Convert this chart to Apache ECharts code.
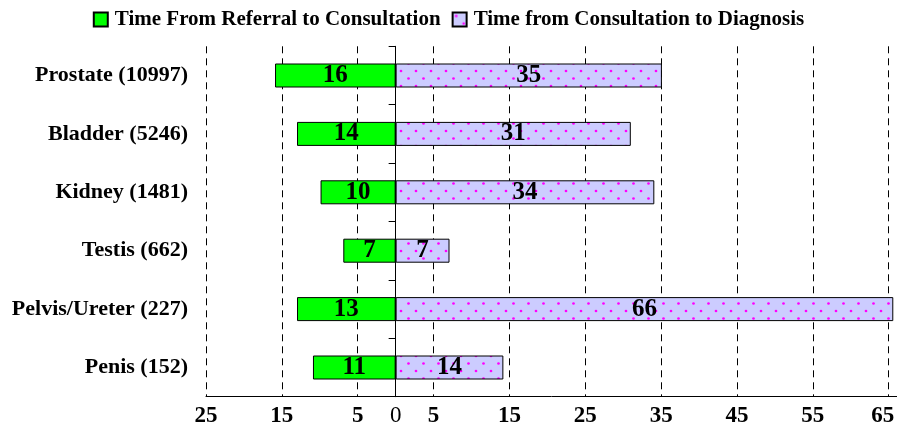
<!DOCTYPE html>
<html><head><meta charset="utf-8">
<script src="https://cdn.jsdelivr.net/npm/echarts@6/dist/echarts.min.js"></script>
<style>html,body{margin:0;padding:0;background:#fff}#c{width:897px;height:429px}</style>
</head><body><div id="c"></div>
<script>
const categories = ['Prostate (10997)','Bladder (5246)','Kidney (1481)','Testis (662)','Pelvis/Ureter (227)','Penis (152)'];
const referralDays = [15.9, 13, 9.9, 6.9, 13, 10.9];
const referralLabels = [16, 14, 10, 7, 13, 11];
const diagnosisDays = [35.1, 31, 34.1, 7.1, 65.6, 14.2];
const diagnosisLabels = [35, 31, 34, 7, 66, 14];
const tickLabels = [-25, -15, -5, 0, 5, 15, 25, 35, 45, 55, 65];
const gridValues = [-25, -15, -5, 5, 15, 25, 35, 45, 55, 65];
const seriesNames = ['Time From Referral to Consultation', 'Time from Consultation to Diagnosis'];

const FONT = "'Liberation Serif', 'Times New Roman', serif";

function dotPattern() {
  const c = document.createElement('canvas');
  c.width = 15; c.height = 15;
  const g = c.getContext('2d');
  g.fillStyle = '#ccccff';
  g.fillRect(0, 0, 15, 15);
  g.fillStyle = '#ff00ff';
  g.beginPath(); g.arc(3.5, 3.5, 1.35, 0, Math.PI * 2); g.fill();
  g.beginPath(); g.arc(11, 11, 1.35, 0, Math.PI * 2); g.fill();
  return { image: c, repeat: 'repeat' };
}

const lastTick = tickLabels[tickLabels.length - 1];

const chart = echarts.init(document.getElementById('c'), null, { renderer: 'canvas' });
chart.setOption({
  animation: false,
  backgroundColor: '#fff',
  textStyle: { fontFamily: FONT },
  legend: {
    top: 4, left: 'center',
    itemWidth: 14, itemHeight: 14, itemGap: 11,
    icon: 'rect',
    textStyle: { fontFamily: FONT, fontWeight: 'bold', fontSize: 21, color: '#000', padding: [0, 0, 0, 2] },
    data: seriesNames
  },
  grid: { left: 206, right: 0, top: 46.3, bottom: 32.3, containLabel: false, outerBoundsMode: 'none' },
  xAxis: {
    type: 'value', min: -25, max: 66.09, interval: 10,
    axisLine: { show: true, lineStyle: { color: '#000', width: 1 } },
    axisTick: { show: false, customValues: gridValues },
    splitLine: { show: true, lineStyle: { color: '#000', type: [7, 5], width: 1 } },
    axisLabel: {
      customValues: tickLabels,
      margin: 8,
      fontFamily: FONT, fontWeight: 'bold', fontSize: 23, color: '#000',
      formatter: v => v === 0 ? '{z|0}' : (v === lastTick ? '{e|' + v + '}' : String(Math.abs(v))),
      rich: {
        z: { fontFamily: FONT, fontWeight: 'normal', fontSize: 23, color: '#000' },
        e: { fontFamily: FONT, fontWeight: 'bold', fontSize: 23, color: '#000', padding: [0, 12, 0, 0] }
      }
    }
  },
  yAxis: [
    {
      type: 'category', inverse: true, data: categories,
      axisLine: { show: true, onZero: true, lineStyle: { color: '#000', width: 1 } },
      axisTick: { show: true, length: 7, lineStyle: { color: '#000' } },
      splitLine: { show: false },
      axisLabel: { show: false }
    },
    {
      type: 'category', inverse: true, data: categories, position: 'left',
      axisLine: { show: false, onZero: false },
      axisTick: { show: false },
      splitLine: { show: false },
      axisLabel: { show: true, margin: 18, fontFamily: FONT, fontWeight: 'bold', fontSize: 22, color: '#000' }
    }
  ],
  series: [
    {
      name: seriesNames[0], type: 'bar', barWidth: 24, barGap: '-100%', yAxisIndex: 0,
      data: referralDays.map(v => -v),
      itemStyle: { color: '#00ff00', borderColor: '#000', borderWidth: 1 },
      label: {
        show: true, position: 'inside', color: '#000',
        fontFamily: FONT, fontWeight: 'bold', fontSize: 25,
        formatter: p => String(referralLabels[p.dataIndex])
      }
    },
    {
      name: seriesNames[1], type: 'bar', barWidth: 24, barGap: '-100%', yAxisIndex: 0,
      data: diagnosisDays,
      itemStyle: { color: dotPattern(), borderColor: '#000', borderWidth: 1 },
      label: {
        show: true, position: 'inside', color: '#000',
        fontFamily: FONT, fontWeight: 'bold', fontSize: 25,
        formatter: p => String(diagnosisLabels[p.dataIndex])
      }
    }
  ]
});
</script></body></html>
